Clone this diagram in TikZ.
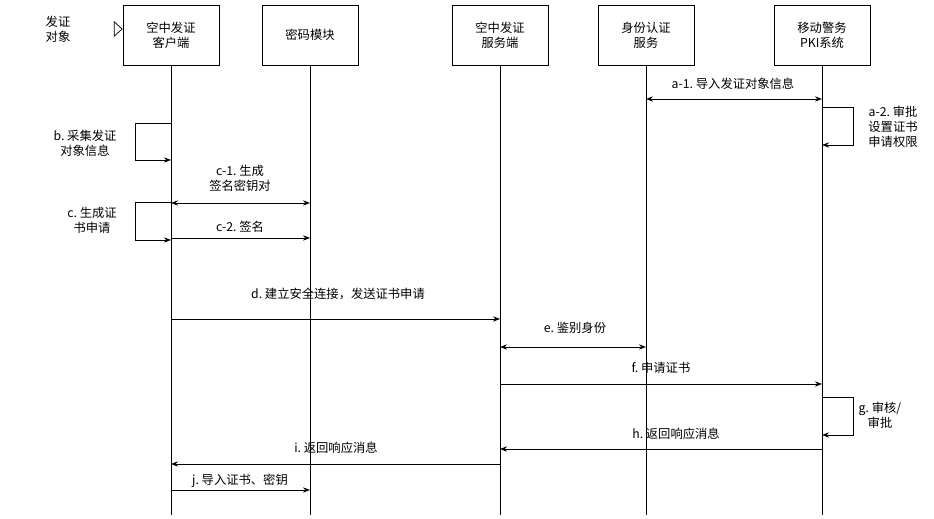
\documentclass[tikz,border=0pt]{standalone}
\usepackage{fontspec}
\newfontfamily\cjk{Noto Sans CJK SC}
\usetikzlibrary{arrows.meta}
\begin{document}
\begin{tikzpicture}[x=0.02cm,y=-0.02cm,font=\cjk\fontsize{7}{8.5}\selectfont,
  box/.style={draw,minimum width=1.92cm,minimum height=1.2cm,align=center},
  msg/.style={-{Stealth[length=4pt]}},
  dmsg/.style={{Stealth[length=4pt]}-{Stealth[length=4pt]}},
  lbl/.style={align=center,inner sep=1pt}]
\useasboundingbox (0,0) rectangle (934,519);
% participants
\node[box] (cli) at (171,35) {空中发证\\客户端};
\node[box] (mod) at (310,35) {密码模块};
\node[box] (srv) at (500,35) {空中发证\\服务端};
\node[box] (auth) at (646,35) {身份认证\\服务};
\node[box] (pki) at (822,35) {移动警务\\PKI系统};
\foreach \n/\x in {cli/171,mod/310,srv/500,auth/646,pki/822}
  \draw (\n.south) -- (\x,515) coordinate (\n-end);
\node[lbl] (obj) at (58,29) {发证\\对象};
\draw[double,double distance=3pt,-{Triangle[open,length=5pt,width=9pt]}] (obj.east) ++(2,0) -- (cli.west |- obj.east);
% a
\draw[dmsg] (646,99) -- (822,99);
\node[lbl] at (733,84) {a-1.\ 导入发证对象信息};
\draw[msg] (822,107) -- (853,107) -- (853,145) -- (822,145);
\node[lbl] at (893,127) {a-2.\ 审批\\设置证书\\申请权限};
% b
\draw[msg] (171,123) -- (135,123) -- (135,160) -- (171,160);
\node[lbl] at (85,143) {b.\ 采集发证\\对象信息};
% c
\draw[dmsg] (171,203) -- (310,203);
\node[lbl] at (240,178) {c-1.\ 生成\\签名密钥对};
\draw[msg] (171,202) -- (135,202) -- (135,240) -- (171,240);
\node[lbl] at (92,220) {c.\ 生成证\\书申请};
\draw[msg] (171,238) -- (310,238);
\node[lbl] at (240,227) {c-2.\ 签名};
% d - j
\draw[msg] (171,319) -- (500,319);
\node[lbl] at (338,294) {d.\ 建立安全连接，发送证书申请};
\draw[dmsg] (500,347) -- (646,347);
\node[lbl] at (575,328) {e.\ 鉴别身份};
\draw[msg] (500,384) -- (822,384);
\node[lbl] at (661,368) {f.\ 申请证书};
\draw[msg] (822,397) -- (853,397) -- (853,435) -- (822,435);
\node[lbl] at (880,415) {g.\ 审核/\\审批};
\draw[msg] (822,449) -- (500,449);
\node[lbl] at (676,434) {h.\ 返回响应消息};
\draw[msg] (500,464) -- (171,464);
\node[lbl] at (336,448) {i.\ 返回响应消息};
\draw[msg] (171,490) -- (310,490);
\node[lbl] at (240,481) {j.\ 导入证书、密钥};
\end{tikzpicture}
\end{document}
